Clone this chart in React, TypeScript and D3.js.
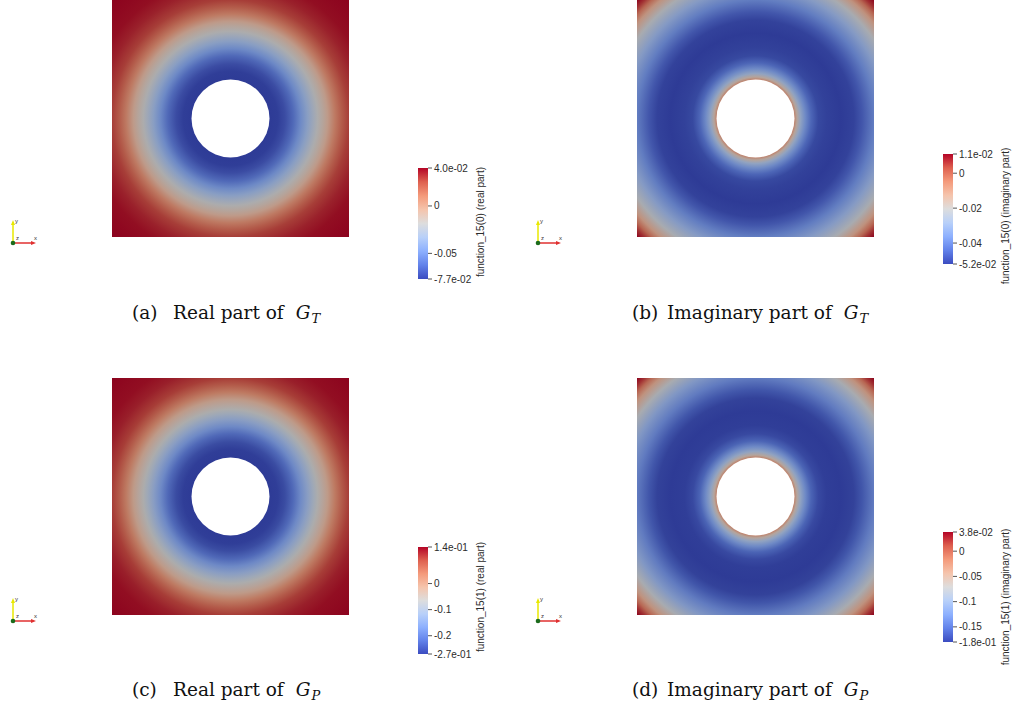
import React, { useEffect, useRef } from 'react';
import * as d3 from 'd3';

// radial positions of the samples, in units of the half side of a square
const radiusReal = [0.33, 0.40, 0.46, 0.53, 0.59, 0.65, 0.70, 0.735, 0.78, 0.82, 0.88, 0.94, 1.0, 1.1, 1.2, 1.3, 1.414];
const radiusImag = [0.33, 0.35, 0.38, 0.42, 0.47, 0.53, 0.60, 0.72, 0.83, 0.90, 1.0, 1.1, 1.2, 1.28, 1.33, 1.37, 1.414];

// field values along the radius
const valuesA = [-0.077, -0.076, -0.071, -0.061, -0.048, -0.036, -0.026, -0.019, -0.012, -0.005, 0.0096, 0.020, 0.028, 0.034, 0.0377, 0.039, 0.040];
const valuesB = [-0.008, -0.017, -0.028, -0.036, -0.044, -0.0495, -0.051, -0.052, -0.0507, -0.047, -0.039, -0.031, -0.0218, -0.011, -0.0016, 0.006, 0.011];
const valuesC = [-0.27, -0.266, -0.25, -0.213, -0.168, -0.127, -0.090, -0.065, -0.040, -0.016, 0.033, 0.070, 0.099, 0.120, 0.132, 0.136, 0.14];
const valuesD = [-0.027, -0.060, -0.097, -0.125, -0.154, -0.171, -0.178, -0.18, -0.176, -0.163, -0.136, -0.110, -0.075, -0.038, -0.006, 0.021, 0.038];

// colour bar ranges and ticks
const rangeA = [-0.077, 0.04];
const rangeB = [-0.052, 0.011];
const rangeC = [-0.27, 0.14];
const rangeD = [-0.18, 0.038];
const ticksA = [0.04, 0, -0.05, -0.077];
const ticksB = [0.011, 0, -0.02, -0.04, -0.052];
const ticksC = [0.14, 0, -0.1, -0.2, -0.27];
const ticksD = [0.038, 0, -0.05, -0.1, -0.15, -0.18];
const tickLabelsA = ['4.0e-02', '0', '-0.05', '-7.7e-02'];
const tickLabelsB = ['1.1e-02', '0', '-0.02', '-0.04', '-5.2e-02'];
const tickLabelsC = ['1.4e-01', '0', '-0.1', '-0.2', '-2.7e-01'];
const tickLabelsD = ['3.8e-02', '0', '-0.05', '-0.1', '-0.15', '-1.8e-01'];

const barTitles = ['function_15(0) (real part)', 'function_15(0) (imaginary part)', 'function_15(1) (real part)', 'function_15(1) (imaginary part)'];
const captionTags = ['(a)', '(b)', '(c)', '(d)'];
const captionWords = ['Real part of', 'Imaginary part of', 'Real part of', 'Imaginary part of'];
const captionSubs = ['T', 'T', 'P', 'P'];

// ParaView "Cool to Warm"
const coolWarm = ['#3b4cc0', '#6282ea', '#8db0fe', '#b8d0f9', '#dddddd', '#f5c4ac', '#f49a7b', '#de604f', '#b40426'];

const W = 1014;
const H = 708;
const SIDE = 237;
const HOLE = 39;
const SHADE = 0.78;

const layout = [
    { sx: 112, sy: 0, bx: 418, by0: 168, by1: 279, tx: 484, ty: 222, gx: 13, gy: 243, cx: 132, wx: 173, cy: 319 },
    { sx: 637, sy: 0, bx: 943, by0: 154, by1: 264, tx: 1009, ty: 216, gx: 538, gy: 243, cx: 632, wx: 667, cy: 319 },
    { sx: 112, sy: 378, bx: 418, by0: 547, by1: 654, tx: 484, ty: 597, gx: 13, gy: 621, cx: 132, wx: 173, cy: 696 },
    { sx: 637, sy: 378, bx: 943, by0: 532, by1: 642, tx: 1009, ty: 597, gx: 538, gy: 621, cx: 632, wx: 667, cy: 696 },
];

const App = () => {
    const svgRef = useRef<SVGSVGElement>(null);

    useEffect(() => {
        const svg = d3.select(svgRef.current);
        svg.selectAll('*').remove();

        const cmap = d3.piecewise(d3.interpolateRgb, coolWarm);
        const shade = (c: string) => {
            const k = d3.rgb(c);
            return d3.rgb(k.r * SHADE, k.g * SHADE, k.b * SHADE).formatHex();
        };

        const panels = [
            { radius: radiusReal, values: valuesA, range: rangeA, ticks: ticksA, labels: tickLabelsA },
            { radius: radiusImag, values: valuesB, range: rangeB, ticks: ticksB, labels: tickLabelsB },
            { radius: radiusReal, values: valuesC, range: rangeC, ticks: ticksC, labels: tickLabelsC },
            { radius: radiusImag, values: valuesD, range: rangeD, ticks: ticksD, labels: tickLabelsD },
        ];

        const defs = svg.append('defs');

        panels.forEach((p, i) => {
            const L = layout[i];
            const half = SIDE / 2;
            const cx = L.sx + half;
            const cy = L.sy + half;
            const rMax = d3.max(p.radius) as number;
            const toT = d3.scaleLinear().domain(p.range).range([0, 1]).clamp(true);
            const toOffset = d3.scaleLinear().domain([0, rMax]).range([0, 1]);

            // field
            const grad = defs.append('radialGradient')
                .attr('id', `field-${i}`)
                .attr('gradientUnits', 'userSpaceOnUse')
                .attr('cx', cx).attr('cy', cy).attr('r', rMax * half);
            grad.append('stop').attr('offset', 0).attr('stop-color', shade(cmap(toT(p.values[0]))));
            p.radius.forEach((r, j) => {
                grad.append('stop')
                    .attr('offset', toOffset(r))
                    .attr('stop-color', shade(cmap(toT(p.values[j]))));
            });

            svg.append('rect')
                .attr('x', L.sx).attr('y', L.sy)
                .attr('width', SIDE).attr('height', SIDE)
                .attr('fill', `url(#field-${i})`);
            svg.append('circle')
                .attr('cx', cx).attr('cy', cy).attr('r', HOLE)
                .attr('fill', '#fff');

            // colour bar
            const barGrad = defs.append('linearGradient')
                .attr('id', `bar-${i}`)
                .attr('x1', 0).attr('y1', 1).attr('x2', 0).attr('y2', 0);
            coolWarm.forEach((c, j) => {
                barGrad.append('stop').attr('offset', j / (coolWarm.length - 1)).attr('stop-color', c);
            });
            svg.append('rect')
                .attr('x', L.bx).attr('y', L.by0)
                .attr('width', 10).attr('height', L.by1 - L.by0)
                .attr('fill', `url(#bar-${i})`);

            const yBar = d3.scaleLinear().domain(p.range).range([L.by1, L.by0]);
            const tick = svg.append('g');
            tick.selectAll('line')
                .data(p.ticks)
                .enter()
                .append('line')
                .attr('x1', L.bx + 10).attr('x2', L.bx + 14)
                .attr('y1', d => yBar(d)).attr('y2', d => yBar(d))
                .attr('stroke', '#555').attr('stroke-width', 1);
            tick.selectAll('text')
                .data(p.ticks)
                .enter()
                .append('text')
                .attr('x', L.bx + 16)
                .attr('y', d => yBar(d))
                .attr('dy', '0.35em')
                .style('font-family', '"Liberation Sans", Arial, sans-serif')
                .style('font-size', '10px')
                .style('fill', '#2b2b2b')
                .text((d, j) => p.labels[j]);

            svg.append('text')
                .attr('transform', `translate(${L.tx},${L.ty}) rotate(-90)`)
                .attr('text-anchor', 'middle')
                .style('font-family', '"Liberation Sans", Arial, sans-serif')
                .style('font-size', '10px')
                .style('fill', '#2b2b2b')
                .text(barTitles[i]);

            // orientation glyph
            const g = svg.append('g').attr('transform', `translate(${L.gx},${L.gy})`);
            g.append('line').attr('x1', 0).attr('y1', 0).attr('x2', 0).attr('y2', -18)
                .attr('stroke', '#e8e800').attr('stroke-width', 1.5);
            g.append('path').attr('d', 'M-2,-18 L2,-18 L0,-23 Z').attr('fill', '#e8e800');
            g.append('line').attr('x1', 0).attr('y1', 0).attr('x2', 18).attr('y2', 0)
                .attr('stroke', '#e03030').attr('stroke-width', 1.5);
            g.append('path').attr('d', 'M18,-2 L18,2 L23,0 Z').attr('fill', '#e03030');
            g.append('circle').attr('r', 2.3).attr('fill', '#1c6b1c');
            const glyphText = [['y', 2, -20], ['z', 3, -3], ['x', 21, -3]];
            glyphText.forEach(([t, x, y]) => {
                g.append('text').attr('x', x).attr('y', y)
                    .style('font-family', '"Liberation Sans", Arial, sans-serif')
                    .style('font-size', '6px')
                    .style('fill', '#333')
                    .text(t as string);
            });

            // caption
            const cap = svg.append('text')
                .attr('x', L.cx).attr('y', L.cy)
                .style('font-family', '"DejaVu Serif", serif')
                .style('font-size', '18.5px')
                .style('fill', '#111');
            cap.append('tspan').text(captionTags[i]);
            cap.append('tspan').attr('x', L.wx).text(captionWords[i]);
            cap.append('tspan').attr('dx', 12).style('font-style', 'italic').text('G');
            cap.append('tspan').attr('dx', 1).attr('dy', 4)
                .style('font-style', 'italic').style('font-size', '13px')
                .text(captionSubs[i]);
        });
    }, []);

    return (
        <svg ref={svgRef} width={W} height={H}
            style={{ position: 'absolute', left: 0, top: 0, background: '#fff' }} />
    );
};

export default App;
